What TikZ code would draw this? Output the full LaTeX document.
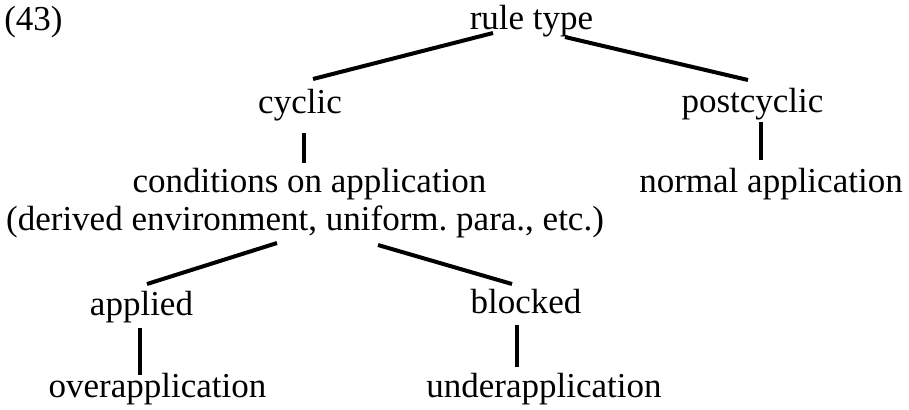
\documentclass[tikz,border=0pt]{standalone}
\usepackage{fontspec}
\setmainfont{Liberation Serif}
\frenchspacing
\begin{document}
\begin{tikzpicture}[x=0.5pt,y=-0.5pt,
  lbl/.style={anchor=base,inner sep=0pt,font=\fontsize{17.5pt}{21pt}\selectfont},
  edge/.style={line width=2pt},
  vedge/.style={line width=1.6pt}]
\useasboundingbox (0,0) rectangle (909,409);
\node[lbl] (num) at (33.5,30) {(43)};
\node[lbl] (rt) at (531.5,29) {rule type};
\node[lbl] (cy) at (300,113) {cyclic};
\node[lbl] (pc) at (752.5,112) {postcyclic};
\node[lbl] (cond) at (309.5,192) {conditions on application};
\node[lbl] (condb) at (305,230) {(derived environment, uniform. para., etc.)};
\node[lbl] (na) at (771,192) {normal application};
\node[lbl] (ap) at (141.5,315) {applied};
\node[lbl] (bl) at (526,313) {blocked};
\node[lbl] (ov) at (157.5,397) {overapplication};
\node[lbl] (un) at (544,397) {underapplication};
\draw[edge] ([shift={(-38.5,4)}]rt.base) -- ([shift={(13,-34)}]cy.base);
\draw[edge] ([shift={(33.5,8)}]rt.base) -- ([shift={(-4.5,-32)}]pc.base);
\draw[vedge] ([shift={(4,20)}]cy.base) -- ([shift={(-5.5,-29)}]cond.base);
\draw[vedge] ([shift={(8.5,10)}]pc.base) -- ([shift={(-10,-32)}]na.base);
\draw[edge] ([shift={(-28,13)}]condb.base) -- ([shift={(5.5,-31)}]ap.base);
\draw[edge] ([shift={(73,15)}]condb.base) -- ([shift={(-14,-29)}]bl.base);
\draw[vedge] ([shift={(-1.5,13)}]ap.base) -- ([shift={(-17.5,-22)}]ov.base);
\draw[vedge] ([shift={(-9,12)}]bl.base) -- ([shift={(-27,-30)}]un.base);
\end{tikzpicture}
\end{document}
